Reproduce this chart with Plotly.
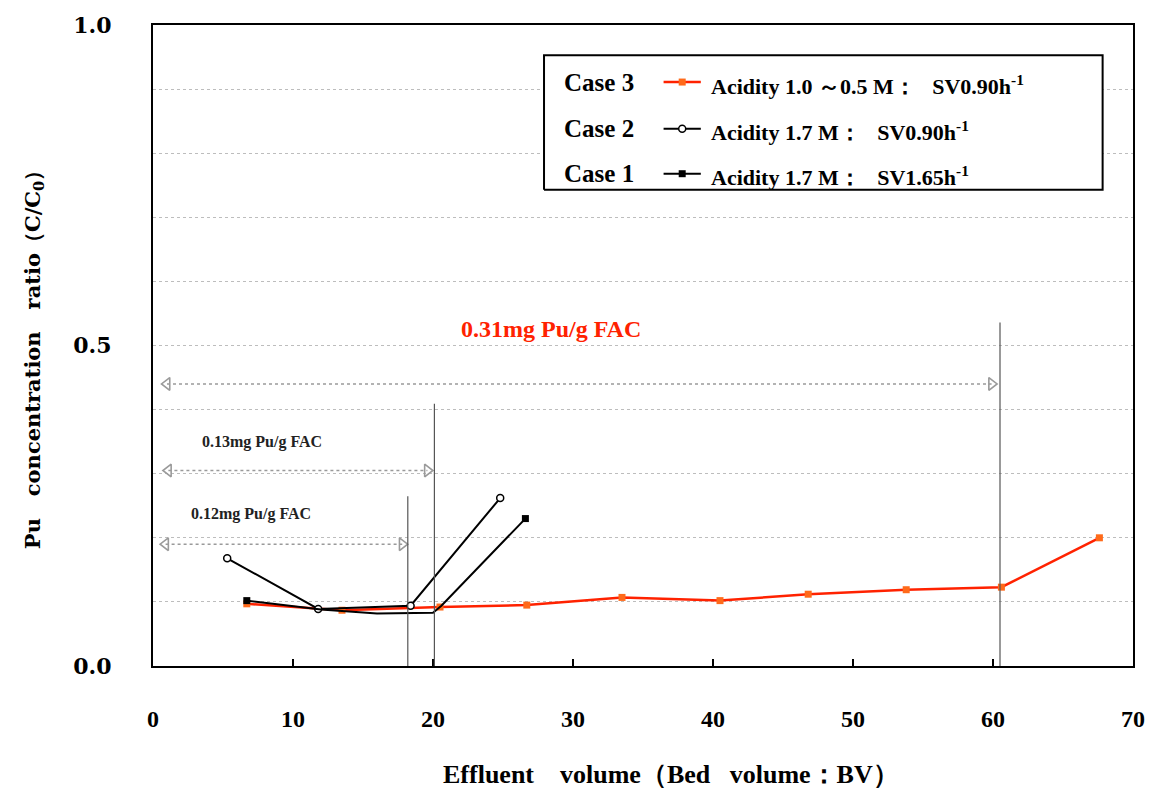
import plotly.graph_objects as go

# ---------------- data ----------------
case3_x = [6.7, 13.5, 20.5, 26.7, 33.5, 40.5, 46.8, 53.8, 60.6, 67.6]
case3_y = [0.097, 0.087, 0.092, 0.095, 0.107, 0.102, 0.112, 0.119, 0.123, 0.200]

case2_x = [5.3, 11.8, 18.4, 24.8]
case2_y = [0.168, 0.089, 0.094, 0.262]

case1_x = [6.7, 12.0, 16.0, 20.0, 20.6, 26.6]
case1_y = [0.102, 0.088, 0.082, 0.083, 0.094, 0.230]

case_labels = ["Case 3", "Case 2", "Case 1"]
legend_texts = ["Acidity 1.0 \uff5e0.5 M\uff1a\u00a0\u00a0 SV0.90h<sup>-1</sup>",
                "Acidity 1.7 M\uff1a\u00a0\u00a0 SV0.90h<sup>-1</sup>",
                "Acidity 1.7 M\uff1a\u00a0\u00a0 SV1.65h<sup>-1</sup>"]

# capacity ranges (double arrows): start, end, level
range_labels = ["0.31mg Pu/g FAC", "0.13mg Pu/g FAC", "0.12mg Pu/g FAC"]
range_x0 = [1.0, 1.1, 0.9]
range_x1 = [59.9, 19.6, 17.8]
range_y = [0.44, 0.305, 0.19]
label_x = [28.4, 7.8, 7.0]
label_y = [0.525, 0.349, 0.237]

# vertical break-through markers
vline_x = [18.2, 20.1, 60.5]
vline_top = [0.265, 0.409, 0.536]

x_ticks = [0, 10, 20, 30, 40, 50, 60, 70]
y_ticks = [0.0, 0.5, 1.0]
y_tick_text = ["0.0", "0.5", "1.0"]

# ---------------- figure ----------------
fig = go.Figure()

SERIF = "Liberation Serif"
RED = "#ff2200"
ORANGE = "#ff6a1a"
GRAY = "#9a9a9a"

# range arrows (dotted lines with hollow triangle heads)
for x0, x1, yv in zip(range_x0, range_x1, range_y):
    fig.add_trace(go.Scatter(
        x=[x0, x1], y=[yv, yv], mode="lines+markers",
        line=dict(color=GRAY, width=1.6, dash="dot"),
        marker=dict(symbol=["triangle-left-open", "triangle-right-open"],
                    size=11, color=GRAY, line=dict(width=1.6, color=GRAY)),
        showlegend=False, hoverinfo="skip"))

fig.add_trace(go.Scatter(
    x=case3_x, y=case3_y, mode="lines+markers", name="Case 3",
    line=dict(color=RED, width=2.5),
    marker=dict(symbol="square", size=7, color=ORANGE, line=dict(width=0)),
    showlegend=False))
fig.add_trace(go.Scatter(
    x=case2_x, y=case2_y, mode="lines+markers", name="Case 2",
    line=dict(color="black", width=2),
    marker=dict(symbol="circle", size=7, color="white", line=dict(width=1.5, color="black")),
    showlegend=False))
fig.add_trace(go.Scatter(
    x=case1_x, y=case1_y, mode="lines", name="Case 1",
    line=dict(color="black", width=2),
    showlegend=False))
fig.add_trace(go.Scatter(
    x=[case1_x[0], case1_x[-1]], y=[case1_y[0], case1_y[-1]], mode="markers",
    marker=dict(symbol="square", size=7, color="black"),
    showlegend=False, hoverinfo="skip"))

# vertical lines
for xv, yt in zip(vline_x, vline_top):
    fig.add_shape(type="line", x0=xv, x1=xv, y0=0, y1=yt, xref="x", yref="y",
                  line=dict(color="#555555", width=1.2))

# range labels
for i, (t, xl, yl) in enumerate(zip(range_labels, label_x, label_y)):
    fig.add_annotation(x=xl, y=yl, xref="x", yref="y", text=t, showarrow=False,
                       xanchor="center", yanchor="middle",
                       font=dict(family=SERIF, size=24 if i == 0 else 16,
                                 color=RED if i == 0 else "#222222",
                                 weight="bold"))

# ---------------- custom legend (on overlay axes 0..1) ----------------
box_x = [0.399, 0.969, 0.969, 0.399, 0.399]
box_y = [0.743, 0.743, 0.953, 0.953, 0.743]
fig.add_trace(go.Scatter(x=box_x, y=box_y, mode="lines", fill="toself", fillcolor="white",
                         line=dict(color="black", width=2), xaxis="x2", yaxis="y2",
                         showlegend=False, hoverinfo="skip"))
row_y = [0.911, 0.838, 0.768]
sample_x = [0.521, 0.559]
styles = [dict(line=dict(color=RED, width=2.5),
               marker=dict(symbol="square", size=7, color=ORANGE)),
          dict(line=dict(color="black", width=2),
               marker=dict(symbol="circle", size=7, color="white",
                           line=dict(width=1.5, color="black"))),
          dict(line=dict(color="black", width=2),
               marker=dict(symbol="square", size=7, color="black"))]
for ry, st in zip(row_y, styles):
    fig.add_trace(go.Scatter(x=sample_x, y=[ry, ry], mode="lines", xaxis="x2", yaxis="y2",
                             line=st["line"], showlegend=False, hoverinfo="skip"))
    fig.add_trace(go.Scatter(x=[sum(sample_x) / 2], y=[ry], mode="markers", xaxis="x2",
                             yaxis="y2", marker=st["marker"], showlegend=False,
                             hoverinfo="skip"))
for ry, cl, lt in zip(row_y, case_labels, legend_texts):
    fig.add_annotation(x=0.417, y=ry, xref="x domain", yref="y domain", text=cl,
                       showarrow=False, xanchor="left", yanchor="middle",
                       font=dict(family=SERIF, size=25, color="black", weight="bold"))
    fig.add_annotation(x=0.567, y=ry - 0.004, xref="x domain", yref="y domain", text=lt,
                       showarrow=False, xanchor="left", yanchor="middle",
                       font=dict(family=SERIF, size=22, color="black", weight="bold"))

# axis titles
fig.add_annotation(x=0.529, y=-0.17, xref="paper", yref="paper",
                   xanchor="center", yanchor="middle",
                   text="Effluent\u00a0\u00a0\u00a0 volume\uff08Bed\u00a0\u00a0 volume\uff1aBV\uff09",
                   showarrow=False, font=dict(family=SERIF, size=26, color="black", weight="bold"))
fig.add_annotation(x=-0.1224, y=0.485, xref="paper", yref="paper", textangle=-90,
                   xanchor="center", yanchor="middle",
                   text="Pu\u00a0\u00a0 concentration\u00a0\u00a0 ratio\uff08C/C<sub>0</sub>\uff09",
                   showarrow=False, font=dict(family="DejaVu Serif", size=21, color="black",
                                              weight="bold"))

fig.update_layout(
    width=1157, height=794,
    margin=dict(l=153, r=24, t=23, b=128),
    paper_bgcolor="white", plot_bgcolor="white",
    showlegend=False,
    xaxis=dict(range=[0, 70], tickvals=x_ticks, ticks="inside", ticklen=7, tickwidth=2,
               tickcolor="black", showgrid=False, zeroline=False,
               showline=True, linecolor="black", linewidth=2, mirror=True,
               ticklabelstandoff=30,
               tickfont=dict(family=SERIF, size=24, color="black", weight="bold")),
    yaxis=dict(range=[0, 1], tickvals=y_ticks, ticktext=y_tick_text, ticks="",
               showgrid=True, gridcolor="#bdbdbd", griddash="dot", gridwidth=1,
               minor=dict(dtick=0.1, showgrid=True, gridcolor="#bdbdbd",
                          griddash="dot", gridwidth=1),
               zeroline=False, showline=True, linecolor="black", linewidth=2, mirror=True,
               ticklabelstandoff=35,
               tickfont=dict(family="DejaVu Serif", size=22, color="black", weight="bold")),
    xaxis2=dict(overlaying="x", range=[0, 1], visible=False, anchor="y2"),
    yaxis2=dict(overlaying="y", range=[0, 1], visible=False, anchor="x2"),
)

fig.write_html("out.html", config={"displayModeBar": False},
               post_script="document.body.style.margin='0px';")
